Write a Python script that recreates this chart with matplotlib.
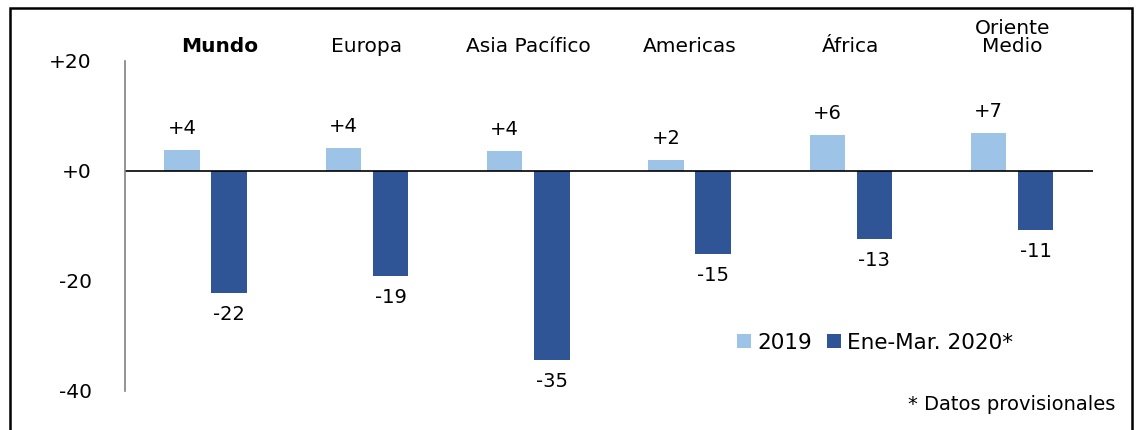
import matplotlib.pyplot as plt
import numpy as np
from matplotlib.patches import Rectangle

plt.rcParams['font.family'] = ['DejaVu Sans']

regions = ["Mundo", "Europa", "Asia Pacífico", "Americas", "África", "Oriente\nMedio"]
vals_2019 = [3.8, 4.1, 3.7, 2.0, 6.5, 6.9]
vals_2020 = [-22.2, -19.1, -34.4, -15.1, -12.4, -10.7]
labels_2019 = ["+4", "+4", "+4", "+2", "+6", "+7"]
labels_2020 = ["-22", "-19", "-35", "-15", "-13", "-11"]
yticks = [20, 0, -20, -40]
ytick_labels = ["+20", "+0", "-20", "-40"]

light = '#9DC3E6'
dark = '#2F5597'

fig = plt.figure(figsize=(11.36, 4.30), dpi=100)
ax = fig.add_axes([0.110, 0.0907, 0.852, 0.7675])

x = np.arange(len(regions))
w = 0.22
off = 0.146
b1 = ax.bar(x - off, vals_2019, width=w, color=light, label="2019")
b2 = ax.bar(x + off, vals_2020, width=w, color=dark, label="Ene-Mar. 2020*")

ax.set_xlim(-0.5, len(regions) - 0.5)
ax.set_ylim(-40, 20)
ax.axhline(0, color='black', linewidth=1.2)

for s in ['top', 'right', 'bottom']:
    ax.spines[s].set_visible(False)
ax.spines['left'].set_color('#808080')
ax.spines['left'].set_linewidth(1.2)
ax.set_xticks([])
ax.set_yticks(yticks)
ax.set_yticklabels(ytick_labels, fontsize=14.5)
ax.tick_params(axis='y', length=0, pad=24)

for i in range(len(regions)):
    ax.text(x[i] - off, vals_2019[i] + 2.2, labels_2019[i], ha='center', va='bottom', fontsize=14)
    ax.text(x[i] + off, vals_2020[i] - 2.2, labels_2020[i], ha='center', va='top', fontsize=14)
    weight = 'bold' if i == 0 else 'normal'
    xpos = x[i] + 0.09 if i == 0 else x[i]
    ax.text(xpos, 20.9, regions[i], ha='center', va='bottom', fontsize=14.5,
            fontweight=weight, linespacing=0.95, clip_on=False)

ax.legend(loc='upper left', bbox_to_anchor=(0.612, 0.235), ncol=2, frameon=False,
          fontsize=15.5, handlelength=0.65, handleheight=0.65, handletextpad=0.3,
          columnspacing=0.7)

fig.text(0.982, 0.06, "* Datos provisionales", ha='right', va='center', fontsize=14)

fig.patches.append(Rectangle((0.0088, -0.05), 0.988, 1.031, transform=fig.transFigure,
                             fill=False, edgecolor='black', linewidth=1.8))

fig.savefig("out.png", dpi=100)
